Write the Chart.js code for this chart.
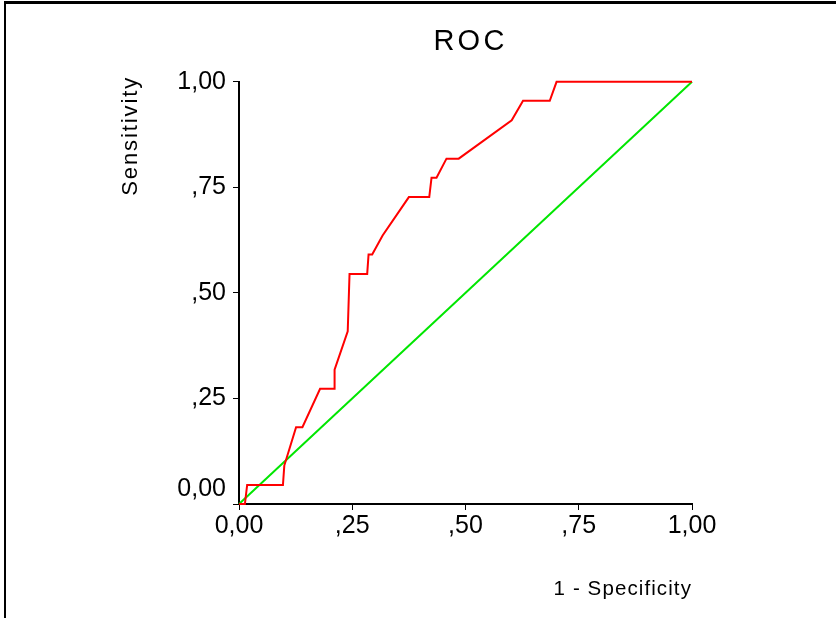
<!DOCTYPE html>
<html><head><meta charset="utf-8">
<script src="https://cdn.jsdelivr.net/npm/chart.js@4.4.0/dist/chart.umd.min.js"></script>
<style>
html,body{margin:0;padding:0;background:#fff;overflow:hidden;}
#wrap{position:relative;width:836px;height:618px;}
#c{position:absolute;left:0;top:0;}
#frame{position:absolute;left:4px;top:1px;width:900px;height:700px;border-top:3px solid #000;border-left:2px solid #000;pointer-events:none;}
</style></head><body>
<div id="wrap"><canvas id="c" width="836" height="618"></canvas><div id="frame"></div></div>
<script>
const chartTitle = 'ROC';
const xAxisTitle = '1 - Specificity';
const yAxisTitle = 'Sensitivity';
const tickValues = [0, 0.25, 0.5, 0.75, 1];
const tickLabels = ['0,00', ',25', ',50', ',75', '1,00'];
const rocFpr = [0, 0.013, 0.018, 0.097, 0.100, 0.126, 0.140, 0.179, 0.211, 0.211, 0.240, 0.244, 0.283, 0.286, 0.294, 0.317, 0.375, 0.420, 0.425, 0.436, 0.458, 0.485, 0.602, 0.627, 0.686, 0.701, 1.0];
const rocTpr = [0, 0, 0.045, 0.045, 0.091, 0.182, 0.182, 0.273, 0.273, 0.318, 0.409, 0.545, 0.545, 0.591, 0.591, 0.636, 0.727, 0.727, 0.773, 0.773, 0.818, 0.818, 0.909, 0.955, 0.955, 1.0, 1.0];
const refFpr = [0, 1];
const refTpr = [0, 1];

const FONT = "'Liberation Sans', Arial, sans-serif";
const toPts = (xs, ys) => xs.map((x, i) => ({x: x, y: ys[i]}));
const labelFor = (v) => {
  const i = tickValues.findIndex(t => Math.abs(t - v) < 1e-9);
  return i < 0 ? '' : tickLabels[i];
};

const spacingPlugin = {
  id: 'spacing',
  beforeDraw(chart) {
    const patch = (obj, method, spacing, dx, dy) => {
      if (!obj || obj['_patched_' + method]) return;
      const orig = obj[method];
      obj[method] = function (...args) {
        const ctx = chart.ctx;
        ctx.save();
        ctx.letterSpacing = spacing;
        ctx.translate(dx, dy);
        const r = orig.apply(this, args);
        ctx.restore();
        return r;
      };
      obj['_patched_' + method] = true;
    };
    patch(chart.titleBlock, 'draw', '3.2px', 5, 0);
    patch(chart.scales.x, 'drawTitle', '1.1px', 0, 0);
    patch(chart.scales.y, 'drawTitle', '1.9px', 0, -6);
  }
};

new Chart(document.getElementById('c'), {
  type: 'scatter',
  data: {
    datasets: [
      {
        label: 'Reference',
        data: toPts(refFpr, refTpr),
        showLine: true,
        borderColor: '#00e600',
        borderWidth: 2,
        pointRadius: 0,
        tension: 0,
        clip: false,
        order: 2
      },
      {
        label: 'ROC',
        data: toPts(rocFpr, rocTpr),
        showLine: true,
        borderColor: '#ff0000',
        borderWidth: 2,
        pointRadius: 0,
        tension: 0,
        clip: false,
        order: 1
      }
    ]
  },
  options: {
    responsive: false,
    animation: false,
    devicePixelRatio: 1,
    layout: {padding: {top: 0, left: 0, right: 144, bottom: 0}},
    plugins: {
      legend: {display: false},
      tooltip: {enabled: false},
      title: {
        display: true,
        text: chartTitle,
        fullSize: false,
        color: '#000',
        font: {family: FONT, size: 29, weight: 'normal'},
        padding: {top: 25, bottom: 22}
      }
    },
    scales: {
      x: {
        type: 'linear',
        position: 'bottom',
        min: 0, max: 1,
        afterBuildTicks: (s) => { s.ticks = tickValues.map(v => ({value: v})); },
        ticks: {
          callback: (v) => labelFor(v),
          color: '#000',
          font: {family: FONT, size: 25},
          padding: 1,
          maxRotation: 0,
          autoSkip: false
        },
        grid: {display: true, drawOnChartArea: false, drawTicks: true, tickLength: 6, color: '#000', lineWidth: 1},
        border: {display: true, color: '#000', width: 2},
        title: {
          display: true,
          text: xAxisTitle,
          align: 'end',
          color: '#000',
          font: {family: FONT, size: 20.5},
          padding: {top: 0, bottom: 16}
        },
        afterFit: (s) => { s.height = 114; }
      },
      y: {
        type: 'linear',
        position: 'left',
        min: 0, max: 1,
        afterBuildTicks: (s) => { s.ticks = tickValues.map(v => ({value: v})); },
        ticks: {
          callback: (v) => { const l = labelFor(v); return v === 0 ? [l, ''] : l; },
          color: '#000',
          font: {family: FONT, size: 25},
          padding: 7,
          autoSkip: false
        },
        grid: {display: true, drawOnChartArea: false, drawTicks: true, tickLength: 6, color: '#000', lineWidth: 1},
        border: {display: true, color: '#000', width: 2},
        title: {
          display: true,
          text: yAxisTitle,
          align: 'end',
          color: '#000',
          font: {family: FONT, size: 22},
          padding: {top: 118, bottom: 0}
        },
        afterFit: (s) => { s.width = 239; }
      }
    }
  },
  plugins: [spacingPlugin]
});
</script>
</body></html>
